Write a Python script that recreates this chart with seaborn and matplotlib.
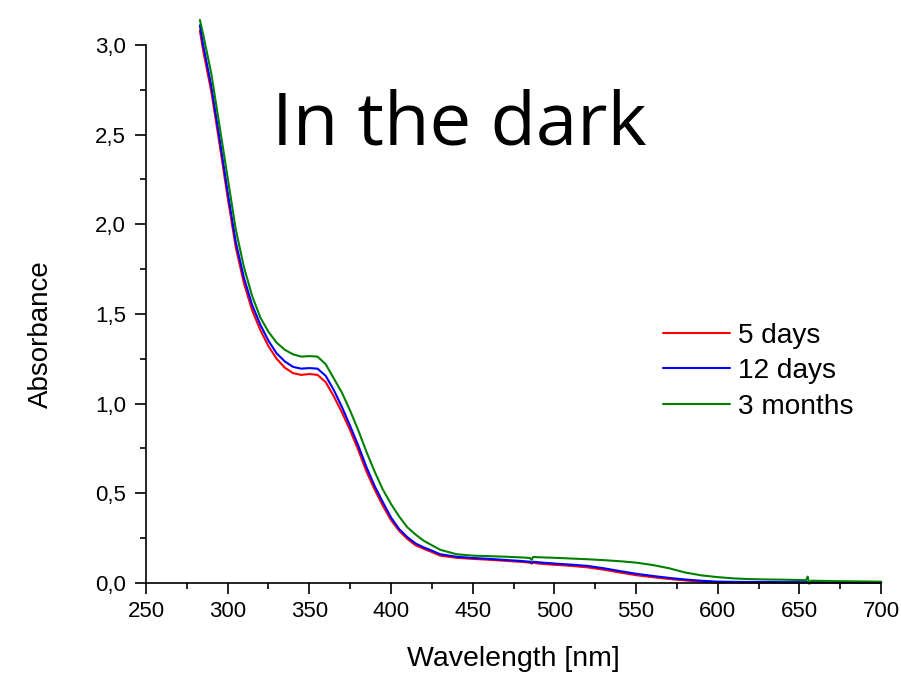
import pandas as pd
import matplotlib
matplotlib.use('Agg')
import matplotlib.pyplot as plt
from matplotlib.ticker import MultipleLocator, FuncFormatter
import seaborn as sns

# Wavelength grid (nm), shared by all spectra
wavelength = [283, 285, 290, 295, 300, 305, 310, 315, 320, 325, 330, 335, 340, 345,
              350, 355, 360, 365, 370, 375, 380, 385, 390, 395, 400, 405, 410, 415,
              420, 425, 430, 440, 450, 460, 470, 480, 485, 486, 487, 490, 500, 510,
              520, 530, 540, 550, 560, 570, 580, 590, 600, 610, 620, 630, 640, 650,
              654, 655, 656, 657, 660, 670, 680, 690, 700]

abs_5days = [3.08, 2.97, 2.74, 2.45, 2.15, 1.87, 1.67, 1.52, 1.41, 1.32, 1.25, 1.20, 1.17, 1.16,
             1.165, 1.16, 1.12, 1.04, 0.95, 0.85, 0.74, 0.62, 0.52, 0.43, 0.35, 0.29, 0.245, 0.21,
             0.19, 0.172, 0.152, 0.140, 0.134, 0.129, 0.123, 0.117, 0.113, 0.108, 0.113, 0.108, 0.101, 0.095,
             0.087, 0.074, 0.058, 0.043, 0.032, 0.022, 0.014, 0.007, 0.003, 0.003, 0.002, 0.002, 0.002, 0.002,
             0.002, 0.002, 0.002, 0.002, 0.002, 0.001, 0.001, 0.001, 0.001]

abs_12days = [3.11, 3.00, 2.77, 2.48, 2.18, 1.90, 1.70, 1.55, 1.44, 1.35, 1.28, 1.235, 1.205, 1.195,
              1.198, 1.195, 1.155, 1.075, 0.98, 0.875, 0.765, 0.645, 0.54, 0.45, 0.365, 0.30, 0.255, 0.22,
              0.198, 0.18, 0.16, 0.146, 0.139, 0.134, 0.128, 0.122, 0.118, 0.112, 0.118, 0.115, 0.108, 0.102,
              0.095, 0.082, 0.066, 0.051, 0.039, 0.028, 0.019, 0.012, 0.007, 0.006, 0.005, 0.005, 0.004, 0.004,
              0.004, 0.004, 0.004, 0.004, 0.004, 0.004, 0.003, 0.003, 0.003]

abs_3months = [3.14, 3.06, 2.84, 2.55, 2.26, 1.97, 1.76, 1.60, 1.48, 1.40, 1.34, 1.30, 1.275, 1.262,
               1.265, 1.262, 1.22, 1.14, 1.06, 0.96, 0.85, 0.73, 0.62, 0.52, 0.44, 0.37, 0.31, 0.27,
               0.235, 0.21, 0.185, 0.160, 0.152, 0.149, 0.146, 0.142, 0.139, 0.128, 0.145, 0.143, 0.140, 0.136,
               0.132, 0.127, 0.121, 0.113, 0.100, 0.082, 0.058, 0.042, 0.032, 0.025, 0.021, 0.019, 0.018, 0.016,
               0.015, 0.035, -0.005, 0.012, 0.012, 0.010, 0.009, 0.008, 0.007]

series_names = ['5 days', '12 days', '3 months']
series_colors = ['#ff0000', '#0000ff', '#008000']

# Long-form table for seaborn
frames = []
for name, vals in zip(series_names, [abs_5days, abs_12days, abs_3months]):
    frames.append(pd.DataFrame({'Wavelength': wavelength, 'Absorbance': vals, 'Sample': name}))
spectra = pd.concat(frames, ignore_index=True)

sns.set_style('ticks')
plt.rcParams['font.family'] = ['Liberation Sans', 'DejaVu Sans']
for key in ['text.color', 'axes.labelcolor', 'xtick.color', 'ytick.color', 'axes.edgecolor']:
    plt.rcParams[key] = 'black'

fig = plt.figure(figsize=(9.01, 6.77), dpi=100)
ax = fig.add_axes([0.162, 0.139, 0.816, 0.7945])

sns.lineplot(data=spectra, x='Wavelength', y='Absorbance', hue='Sample',
             palette=dict(zip(series_names, series_colors)), linewidth=1.5,
             estimator=None, ax=ax)
for line in ax.get_lines():
    line.set_clip_on(False)

ax.set_xlim(250, 700)
ax.set_ylim(0, 3.0)
ax.xaxis.set_major_locator(MultipleLocator(50))
ax.xaxis.set_minor_locator(MultipleLocator(25))
ax.yaxis.set_major_locator(MultipleLocator(0.5))
ax.yaxis.set_minor_locator(MultipleLocator(0.25))
ax.yaxis.set_major_formatter(FuncFormatter(lambda v, p: f'{v:.1f}'.replace('.', ',')))
ax.tick_params(which='major', direction='out', length=8, width=1.2, labelsize=16)
ax.tick_params(which='minor', direction='out', length=4.5, width=1.2)
ax.tick_params(axis='x', which='major', pad=5)
ax.tick_params(axis='y', which='major', pad=6.5)
for side in ['left', 'bottom']:
    ax.spines[side].set_linewidth(1.2)
sns.despine(ax=ax)

ax.set_xlabel('Wavelength [nm]', fontsize=20.5)
ax.set_ylabel('Absorbance', fontsize=20)
ax.xaxis.set_label_coords(0.5, -0.118)
ax.yaxis.set_label_coords(-0.125, 0.463)

fig.text(0.302, 0.787, 'In the dark', fontsize=53.5, color='black',
         family=['Open Sans', 'DejaVu Sans'], va='baseline', ha='left')

ax.legend(title=None, frameon=False, fontsize=20.2, loc='upper left',
          bbox_to_anchor=(0.7235, 0.54), bbox_transform=fig.transFigure,
          handlelength=2.4, handletextpad=0.28, labelspacing=0.34, borderaxespad=0)

fig.savefig('out.png', dpi=100)
